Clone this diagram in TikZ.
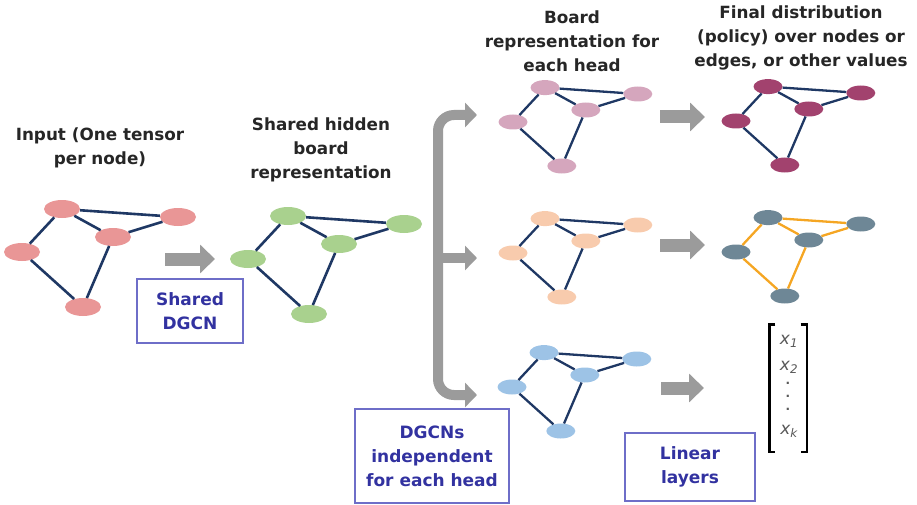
\documentclass[tikz,border=0pt]{standalone}
\usepackage{fontspec}
\setmainfont{DejaVu Sans}
\usepackage{tikz}
\usetikzlibrary{arrows.meta, positioning, calc, shapes.geometric}
\definecolor{cnavy}{RGB}{31,56,100}
\definecolor{cinput}{RGB}{233,150,150}
\definecolor{cgreen}{RGB}{169,209,142}
\definecolor{chead}{RGB}{213,166,189}
\definecolor{cfinal}{RGB}{162,66,110}
\definecolor{cpeach}{RGB}{248,203,173}
\definecolor{cslate}{RGB}{110,135,150}
\definecolor{corange}{RGB}{245,166,35}
\definecolor{cblue}{RGB}{157,195,230}
\definecolor{cgray}{RGB}{155,155,155}
\definecolor{cboxtext}{RGB}{50,50,160}
\definecolor{cboxline}{RGB}{110,110,200}

% one board graph: name, left node position, scale, node style, edge style
\newcommand{\boardgraph}[5]{%
  \begin{scope}[shift={#2}, scale=#3]
    \node[vtx, #4] (#1d) at (0,0) {};
    \node[vtx, #4] (#1a) at (40,-43) {};
    \node[vtx, #4] (#1b) at (156,-35) {};
    \node[vtx, #4] (#1c) at (91,-15) {};
    \node[vtx, #4] (#1e) at (61,55) {};
  \end{scope}
  \draw[edge, #5] (#1a) -- (#1b) (#1a) -- (#1c) (#1c) -- (#1b)
    (#1a) -- (#1d) (#1d) -- (#1e) (#1e) -- (#1c);
}

\begin{document}
\begin{tikzpicture}[
    x=1pt, y=-1pt,
    vtx/.style={ellipse, inner sep=0, minimum width=36pt, minimum height=18pt},
    smallvtx/.style={minimum width=29pt, minimum height=15pt},
    edge/.style={line width=2.6pt, draw=cnavy},
    blockarrow/.style={line width=13pt, draw=cgray, -{Triangle[length=15pt, width=28pt]}},
    forkarrow/.style={line width=10pt, draw=cgray, rounded corners=16pt, -{Triangle[length=12pt, width=24pt]}},
    title/.style={font=\fontsize{16.8}{24}\selectfont\bfseries, text=black!85, align=center},
    labelbox/.style={draw=cboxline, line width=1.2pt, text=cboxtext, align=center,
      font=\fontsize{17}{24}\selectfont\bfseries},
    entry/.style={font=\fontsize{17}{20}\selectfont\itshape, text=black!65, inner sep=0},
]
    \useasboundingbox (0,0) rectangle (917,505);

    % Graphs
    \boardgraph{in}{(22,252)}{1}{fill=cinput}{}
    \boardgraph{sh}{(248,259)}{1}{fill=cgreen}{}
    \boardgraph{hp}{(513,122)}{0.8}{smallvtx, fill=chead}{line width=2.3pt}
    \boardgraph{hm}{(513,253)}{0.8}{smallvtx, fill=cpeach}{line width=2.3pt}
    \boardgraph{hb}{(512,387)}{0.8}{smallvtx, fill=cblue}{line width=2.3pt}
    \boardgraph{fp}{(736,121)}{0.8}{smallvtx, fill=cfinal}{line width=2.3pt}
    \boardgraph{fe}{(736,252)}{0.8}{smallvtx, fill=cslate}{line width=2.3pt, draw=corange}

    % Titles
    \node[title] (tin) at (100,148) {Input (One tensor\\per node)};
    \node[title] (tsh) at (321,150) {Shared hidden\\board\\representation};
    \node[title] (thd) at (572,41) {Board\\representation for\\each head};
    \node[title] (tfn) at (801,38) {Final distribution\\(policy) over nodes or\\edges, or other values};

    % Arrows
    \coordinate (a1) at (165,259);
    \coordinate (a2) at (215,259);
    \draw[blockarrow] (a1) -- (a2);

    \coordinate (fork) at (438,258);
    \coordinate (ftop) at (477,115);
    \coordinate (fmid) at (477,258);
    \coordinate (fbot) at (477,395);
    \draw[forkarrow] (fork) |- (ftop);
    \draw[forkarrow] (fork) |- (fbot);
    \draw[forkarrow] (fork) -- (fmid);

    \coordinate (r1) at (660,117);
    \coordinate (r2) at (705,117);
    \coordinate (r3) at (660,245);
    \coordinate (r4) at (705,245);
    \coordinate (r5) at (661,388);
    \coordinate (r6) at (704,388);
    \draw[blockarrow] (r1) -- (r2);
    \draw[blockarrow] (r3) -- (r4);
    \draw[blockarrow] (r5) -- (r6);

    % Output vector
    \node[minimum width=37pt, minimum height=127pt] (vec) at (788,388) {};
    \draw[line width=2.4pt] ([xshift=6pt]vec.north west) -- (vec.north west) -- (vec.south west) -- ([xshift=6pt]vec.south west);
    \draw[line width=2.4pt] ([xshift=-6pt]vec.north east) -- (vec.north east) -- (vec.south east) -- ([xshift=-6pt]vec.south east);
    \node[entry] (x1) at (789,341) {x\textsubscript{1}};
    \node[entry] (x2) at (789,367) {x\textsubscript{2}};
    \node[entry, font=\fontsize{12}{13}\selectfont\bfseries, align=center] (xd) at (788,396) {.\\.\\.};
    \node[entry] (xk) at (789,431) {x\textsubscript{k}};

    % Boxes
    \node[labelbox, minimum width=106pt, minimum height=64pt] (bshared) at (190,311) {Shared\\DGCN};
    \node[labelbox, minimum width=154pt, minimum height=94pt] (bheads) at (432,456) {DGCNs\\independent\\for each head};
    \node[labelbox, minimum width=130pt, minimum height=68pt] (blinear) at (690,467) {Linear\\layers};
\end{tikzpicture}
\end{document}
